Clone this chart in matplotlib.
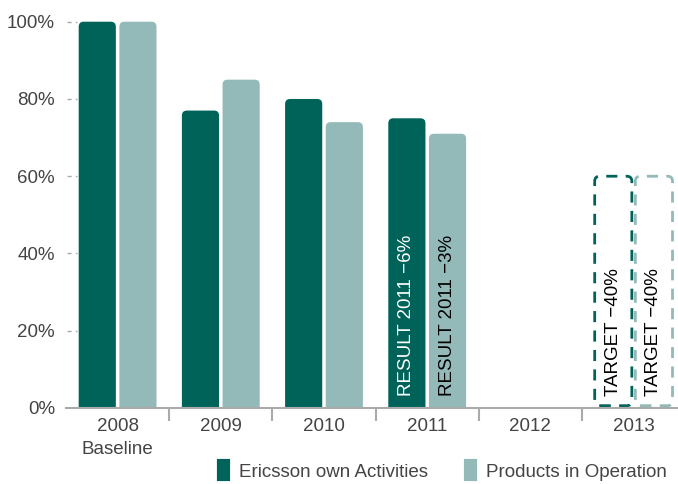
import matplotlib
matplotlib.use("Agg")
import matplotlib.pyplot as plt
from matplotlib.patches import FancyBboxPatch, Patch
import numpy as np

plt.rcParams['font.family'] = ['Liberation Sans', 'DejaVu Sans']

years = ["2008\nBaseline", "2009", "2010", "2011", "2012", "2013"]
own_activities = [100, 77, 80, 75, None, None]
products_in_operation = [100, 85, 74, 71, None, None]
target_own = 60
target_products = 60
result_labels = ["RESULT 2011 \u22126%", "RESULT 2011 \u22123%"]
target_label = "TARGET \u221240%"
series_names = ["Ericsson own Activities", "Products in Operation"]

dark = "#00635A"
light = "#93BAB8"
grey = "#AAAAAA"
text_col = "#444444"
fs = 13.5

W, H = 678, 484
fig = plt.figure(figsize=(W / 100, H / 100), dpi=100)
ax = fig.add_axes([66 / W, 76 / H, 612 / W, 405.6 / H])
ax.set_xlim(-0.5, -0.5 + 612 / 103.2)
ax.set_ylim(0, 105)

x = np.arange(len(years))
off = 0.197
bw = 0.36

# pixel -> data conversion for rounded corners
px_x = 1 / 103.2
px_y = 100 / 386.3
radius = 5 * px_x
aspect = px_y / px_x


def rounded_bar(cx, top, color, fill=True, ls='solid', lw=0):
    bottom = -5 if fill else 0.6
    p = FancyBboxPatch((cx - bw / 2, bottom), bw, top - bottom,
                       boxstyle=f"round,pad=0,rounding_size={radius}",
                       mutation_aspect=aspect,
                       facecolor=color if fill else 'none',
                       edgecolor=color if not fill else 'none',
                       linestyle=ls, linewidth=lw, clip_on=True)
    ax.add_patch(p)


for i in range(len(years)):
    if own_activities[i] is not None:
        rounded_bar(x[i] - off, own_activities[i], dark)
    if products_in_operation[i] is not None:
        rounded_bar(x[i] + off, products_in_operation[i], light)

# 2013 targets as dashed outlines
rounded_bar(x[5] - off, target_own, dark, fill=False, ls=(0, (4, 3)), lw=2)
rounded_bar(x[5] + off, target_products, light, fill=False, ls=(0, (4, 3)), lw=2)

# labels inside bars
ax.text(x[3] - off, 3.2, result_labels[0], rotation=90, ha='center', va='bottom',
        color='white', fontsize=fs)
ax.text(x[3] + off, 3.2, result_labels[1], rotation=90, ha='center', va='bottom',
        color='black', fontsize=fs)
ax.text(x[5] - off, 3.2, target_label, rotation=90, ha='center', va='bottom',
        color='black', fontsize=fs)
ax.text(x[5] + off, 3.2, target_label, rotation=90, ha='center', va='bottom',
        color='black', fontsize=fs)

# axes styling
for s in ['top', 'right', 'left']:
    ax.spines[s].set_visible(False)
ax.spines['bottom'].set_color(grey)
ax.spines['bottom'].set_linewidth(1.5)

yt = [0, 20, 40, 60, 80, 100]
ax.set_yticks(yt)
ax.set_yticklabels([f"{v}%" for v in yt], color=text_col, fontsize=fs)
ax.tick_params(axis='y', length=0, pad=8)
for v in yt[1:]:
    ax.plot([0.002, 0.018], [v, v], transform=ax.get_yaxis_transform(),
            color=grey, lw=1, ls=(0, (3, 3)), clip_on=False)

ax.set_xticks(x)
ax.set_xticklabels(years, color=text_col, fontsize=fs, linespacing=1.45)
ax.set_xticks(x[:-1] + 0.5, minor=True)
ax.tick_params(axis='x', which='major', length=0, pad=7)
ax.tick_params(axis='x', which='minor', length=9, width=1.5, color=grey)

handles = [Patch(facecolor=dark, edgecolor=dark, linewidth=3, joinstyle='round'),
           Patch(facecolor=light, edgecolor=light, linewidth=3, joinstyle='round')]
leg = fig.legend(handles, series_names, loc='center',
                 bbox_to_anchor=(443 / W, 1 - 471 / H), ncol=2, frameon=False,
                 fontsize=fs, handlelength=0.5, handleheight=1.05,
                 handletextpad=0.6, columnspacing=2.0)
for t in leg.get_texts():
    t.set_color(text_col)

fig.savefig("out.png", dpi=100)
